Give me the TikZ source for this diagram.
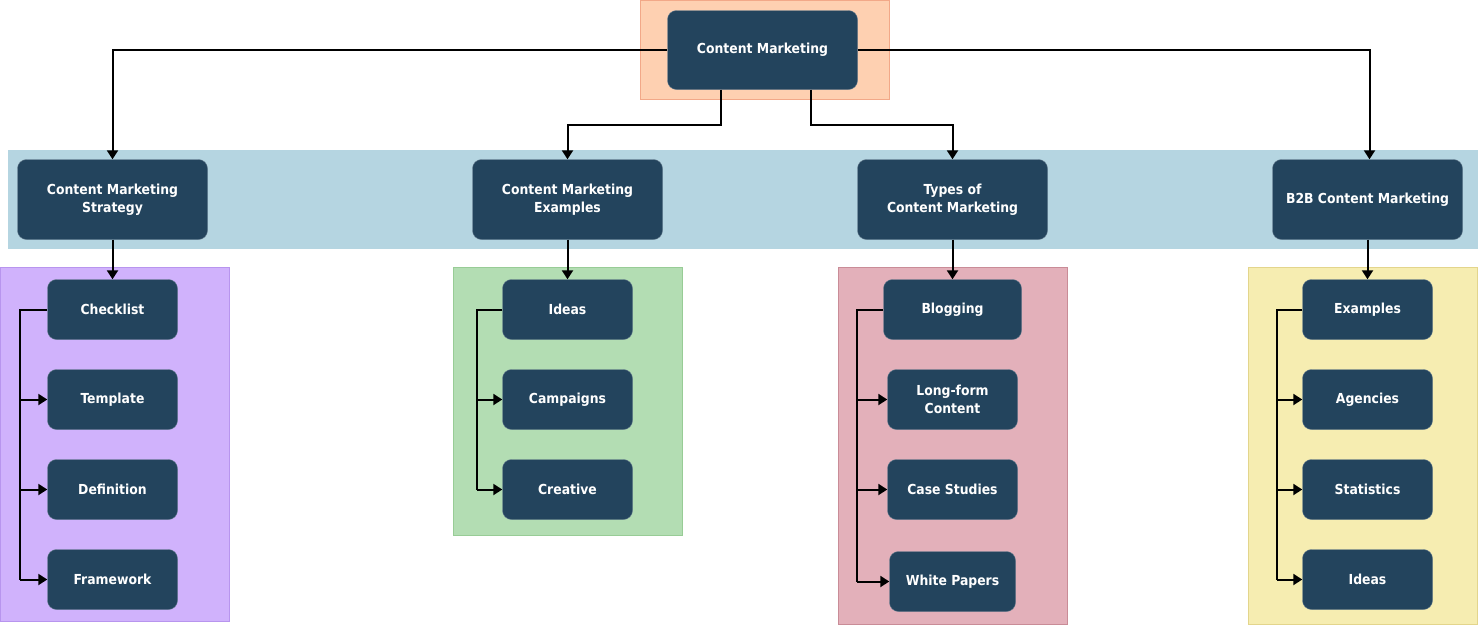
\documentclass[tikz,border=0pt]{standalone}
\usepackage{fontspec}
\setmainfont{DejaVu Sans Condensed}
\usetikzlibrary{arrows.meta}
\definecolor{nodeblue}{HTML}{23445D}
\definecolor{peach}{HTML}{FED0B1}
\definecolor{peachb}{HTML}{F2A888}
\definecolor{band}{HTML}{B5D5E1}
\definecolor{purp}{HTML}{D0B2FC}
\definecolor{purpb}{HTML}{B895EE}
\definecolor{grn}{HTML}{B3DDB3}
\definecolor{grnb}{HTML}{98CC96}
\definecolor{pnk}{HTML}{E3B0BA}
\definecolor{pnkb}{HTML}{C98C97}
\definecolor{ylw}{HTML}{F6EDB1}
\definecolor{ylwb}{HTML}{E3D58C}
\tikzset{
  box/.style={draw=nodeblue!70!white, line width=0.4pt, fill=nodeblue, rounded corners=9pt,
    text=white, font=\bfseries\fontsize{13.8}{17.5}\selectfont, align=center, inner sep=0pt},
  topbox/.style={box, minimum width=190pt, minimum height=79pt},
  lvlbox/.style={box, minimum width=190pt, minimum height=80pt},
  leafbox/.style={box, minimum width=130pt, minimum height=60pt},
  conn/.style={line width=2pt, -{Triangle[length=9pt,width=11pt]}},
  plain/.style={line width=2pt},
}
\begin{document}
\begin{tikzpicture}[x=1pt,y=-1pt]
\useasboundingbox (0,0) rectangle (1478,625);
% backgrounds
\fill[peach, draw=peachb, line width=0.8pt] (640.5,0.5) rectangle (889.5,99.5);
\fill[band] (8,150) rectangle (1478,249);
\filldraw[fill=purp, draw=purpb, line width=0.8pt] (0.5,267.5) rectangle (229.5,621);
\filldraw[fill=grn, draw=grnb, line width=0.8pt] (453.5,267.5) rectangle (682.5,535);
\filldraw[fill=pnk, draw=pnkb, line width=0.8pt] (838.5,267.5) rectangle (1067.5,624);
\filldraw[fill=ylw, draw=ylwb, line width=0.8pt] (1248.5,267.5) rectangle (1477.5,624);
% root
\node[topbox] (root) at (762.5,50) {Content Marketing};
% level 1
\node[lvlbox] (a) at (112.5,199.5) {Content Marketing\\Strategy};
\node[lvlbox] (b) at (567.5,199.5) {Content Marketing\\Examples};
\node[lvlbox] (c) at (952.5,199.5) {Types of\\Content Marketing};
\node[lvlbox] (d) at (1367.5,199.5) {B2B Content Marketing};
% leaves A
\node[leafbox] (a1) at (112.5,309.5) {Checklist};
\node[leafbox] (a2) at (112.5,399.5) {Template};
\node[leafbox] (a3) at (112.5,489.5) {Definition};
\node[leafbox] (a4) at (112.5,579.5) {Framework};
% leaves B
\node[leafbox] (b1) at (567.5,309.5) {Ideas};
\node[leafbox] (b2) at (567.5,399.5) {Campaigns};
\node[leafbox] (b3) at (567.5,489.5) {Creative};
% leaves C
\node[leafbox, minimum width=138pt] (c1) at (952.5,309.5) {Blogging};
\node[leafbox] (c2) at (952.5,399.5) {Long-form\\Content};
\node[leafbox] (c3) at (952.5,489.5) {Case Studies};
\node[leafbox, minimum width=126pt] (c4) at (952.5,581.5) {White Papers};
% leaves D
\node[leafbox] (d1) at (1367.5,309.5) {Examples};
\node[leafbox] (d2) at (1367.5,399.5) {Agencies};
\node[leafbox] (d3) at (1367.5,489.5) {Statistics};
\node[leafbox] (d4) at (1367.5,579.5) {Ideas};
% root connectors
\draw[conn] (root.west) -| (a.north);
\draw[conn] (root.east) -| ([xshift=2pt]d.north);
\draw[conn] ([xshift=-42pt]root.south) |- (567.5,125) -- (b.north);
\draw[conn] ([xshift=48pt]root.south) |- (952.5,125) -- (c.north);
% level 1 to first leaf
\draw[conn] (a.south) -- (a1.north);
\draw[conn] (b.south) -- (b1.north);
\draw[conn] (c.south) -- (c1.north);
\draw[conn] (d.south) -- (d1.north);
% trunks
\coordinate (ta) at (20,0);
\coordinate (tb) at (477,0);
\coordinate (tc) at (857,0);
\coordinate (td) at (1277,0);
\draw[plain] (a1.west) -| (ta |- a4.west);
\draw[conn] (ta |- a2.west) -- (a2.west);
\draw[conn] (ta |- a3.west) -- (a3.west);
\draw[conn] (ta |- a4.west) -- (a4.west);
\draw[plain] (b1.west) -| (tb |- b3.west);
\draw[conn] (tb |- b2.west) -- (b2.west);
\draw[conn] (tb |- b3.west) -- (b3.west);
\draw[plain] (c1.west) -| (tc |- c4.west);
\draw[conn] (tc |- c2.west) -- (c2.west);
\draw[conn] (tc |- c3.west) -- (c3.west);
\draw[conn] (tc |- c4.west) -- (c4.west);
\draw[plain] (d1.west) -| (td |- d4.west);
\draw[conn] (td |- d2.west) -- (d2.west);
\draw[conn] (td |- d3.west) -- (d3.west);
\draw[conn] (td |- d4.west) -- (d4.west);
\end{tikzpicture}
\end{document}
